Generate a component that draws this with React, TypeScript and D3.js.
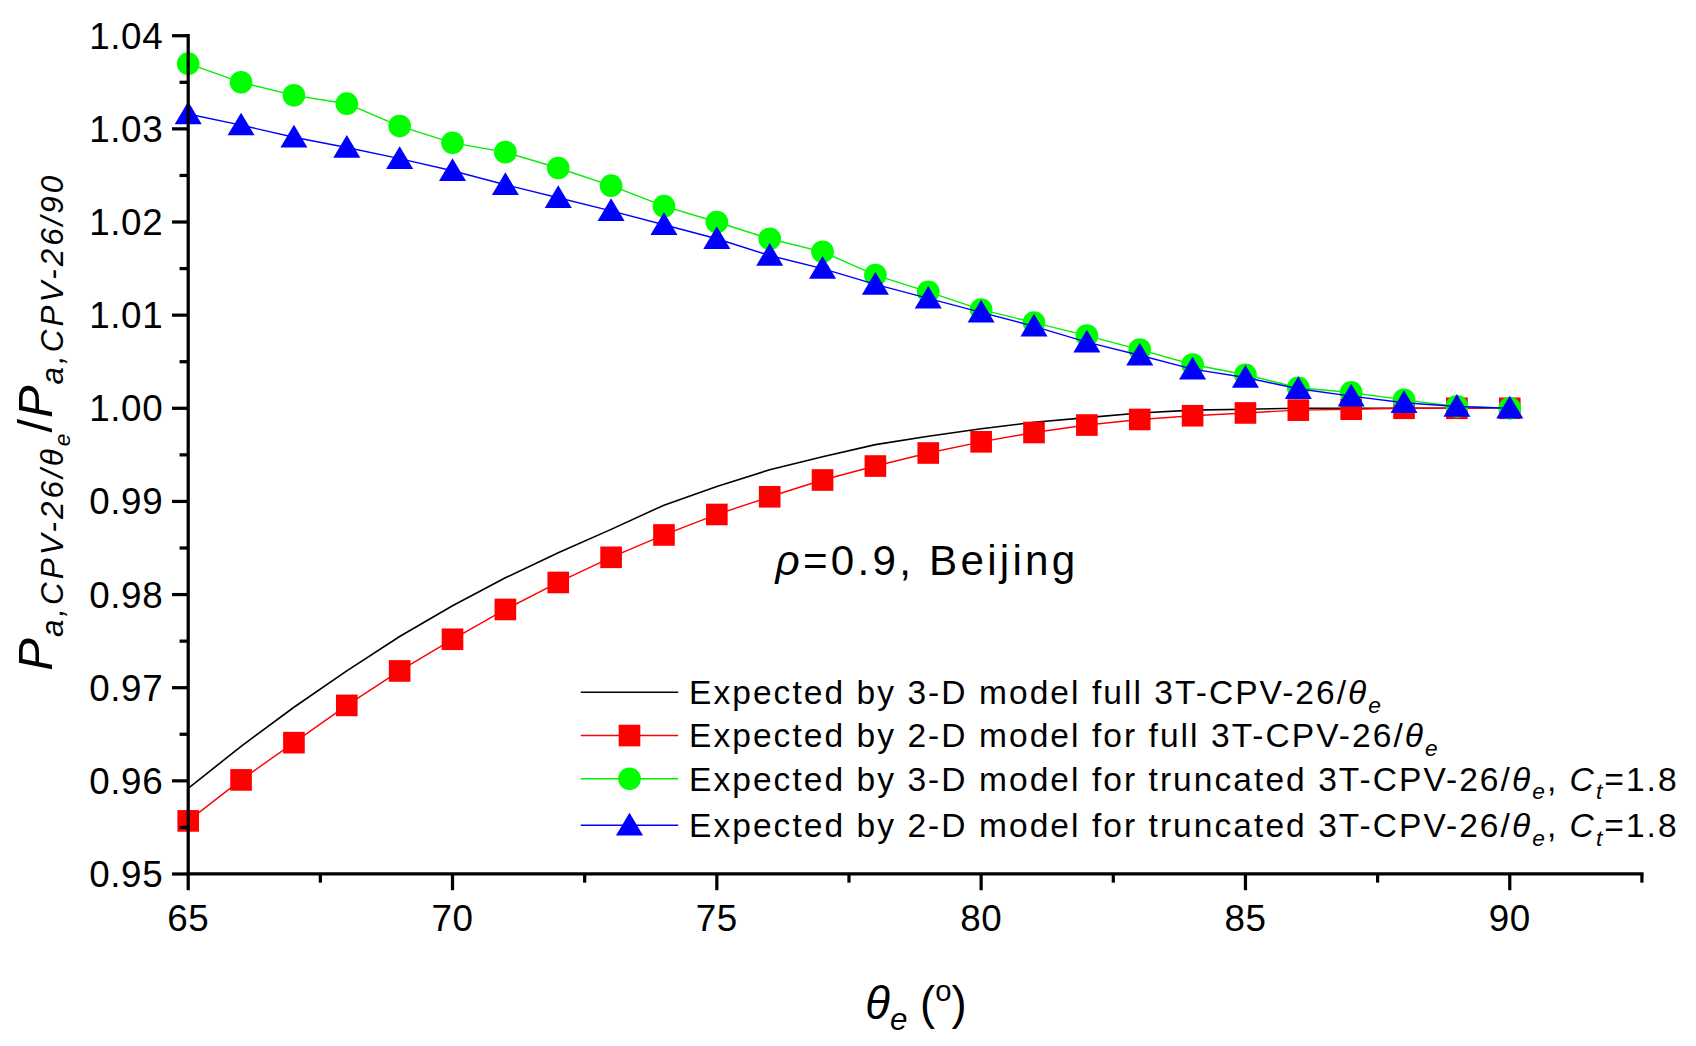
import React from "react";
import * as d3 from "d3";

const theta = [65, 66, 67, 68, 69, 70, 71, 72, 73, 74, 75, 76, 77, 78, 79, 80, 81, 82, 83, 84, 85, 86, 87, 88, 89, 90];
const full3D = [0.9592, 0.9637, 0.9679, 0.9718, 0.9755, 0.9788, 0.9818, 0.9845, 0.987, 0.9896, 0.9916, 0.9934, 0.9948, 0.9961, 0.997, 0.9978, 0.9985, 0.999, 0.9995, 0.9998, 0.9999, 1.0, 1.0, 1.0, 1.0, 1.0];
const full2D = [0.9557, 0.9601, 0.9641, 0.9681, 0.9718, 0.9752, 0.9784, 0.9813, 0.984, 0.9864, 0.9886, 0.9905, 0.9923, 0.9938, 0.9952, 0.9964, 0.9974, 0.9982, 0.9988, 0.9992, 0.9995, 0.9998, 0.9999, 1.0, 1.0, 1.0];
const trunc3D = [1.037, 1.035, 1.0336, 1.0327, 1.0303, 1.0285, 1.0275, 1.0258, 1.0239, 1.0217, 1.02, 1.0182, 1.0168, 1.0143, 1.0125, 1.0106, 1.0092, 1.0078, 1.0063, 1.0047, 1.0036, 1.0022, 1.0017, 1.0009, 1.0002, 1.0];
const trunc2D = [1.0316, 1.0304, 1.0291, 1.028, 1.0268, 1.0255, 1.024, 1.0226, 1.0212, 1.0197, 1.0182, 1.0164, 1.015, 1.0133, 1.0118, 1.0103, 1.0088, 1.0071, 1.0057, 1.0042, 1.0033, 1.0021, 1.0013, 1.0006, 1.0002, 1.0];

const xMajor = [65, 70, 75, 80, 85, 90];
const xMinor = [67.5, 72.5, 77.5, 82.5, 87.5, 92.5];
const yMajor = [0.95, 0.96, 0.97, 0.98, 0.99, 1.0, 1.01, 1.02, 1.03, 1.04];
const yMinor = [0.955, 0.965, 0.975, 0.985, 0.995, 1.005, 1.015, 1.025, 1.035];

const FONT = "'Liberation Sans', Arial, sans-serif";

export default function App() {
  const x = d3.scaleLinear().domain([65, 92.5]).range([174, 1518]);
  const y = d3.scaleLinear().domain([0.95, 1.04]).range([808, 33]);
  const line = (vals: number[]) =>
    d3.line<number>().x((_, i) => x(theta[i])).y((v) => y(v))(vals) || "";

  const tri = (cx: number, cy: number, w: number, h: number) =>
    `M${cx},${cy - h * 0.55}L${cx + w / 2},${cy + h * 0.45}L${cx - w / 2},${cy + h * 0.45}Z`;

  const legendRows = [
    { y: 640, color: "#000000", marker: "none", main: "Expected by 3-D model full 3T-CPV-26/", ct: false },
    { y: 680, color: "#FF0000", marker: "square", main: "Expected by 2-D model for full 3T-CPV-26/", ct: false },
    { y: 720, color: "#00EE00", marker: "circle", main: "Expected by 3-D model for truncated 3T-CPV-26/", ct: true },
    { y: 763, color: "#0000FF", marker: "triangle", main: "Expected by 2-D model for truncated 3T-CPV-26/", ct: true },
  ];

  return (
    <svg
      width={1696}
      height={1046}
      viewBox="0 0 1568 967"
      style={{ position: "absolute", left: 0, top: 0, background: "#fff" }}
      fontFamily={FONT}
    >
      <rect x={0} y={0} width={1568} height={967} fill="#fff" />
      {/* black line */}
      <path d={line(full3D)} fill="none" stroke="#000" strokeWidth={1.5} />
      {/* red */}
      <path d={line(full2D)} fill="none" stroke="#FF0000" strokeWidth={1.3} />
      {full2D.map((v, i) => (
        <rect key={"r" + i} x={x(theta[i]) - 10} y={y(v) - 10} width={20} height={20} fill="#FF0000" />
      ))}
      {/* green */}
      <path d={line(trunc3D)} fill="none" stroke="#00EE00" strokeWidth={1.3} />
      {trunc3D.map((v, i) => (
        <ellipse key={"g" + i} cx={x(theta[i])} cy={y(v)} rx={10.5} ry={10.5} fill="#00FF00" />
      ))}
      {/* blue */}
      <path d={line(trunc2D)} fill="none" stroke="#0000FF" strokeWidth={1.3} />
      {trunc2D.map((v, i) => (
        <path key={"b" + i} d={tri(x(theta[i]), y(v), 25, 21)} fill="#0000FF" />
      ))}

      {/* axes */}
      <line x1={174} y1={31.5} x2={174} y2={809.5} stroke="#000" strokeWidth={3} />
      <line x1={172.5} y1={808} x2={1519.5} y2={808} stroke="#000" strokeWidth={3} />
      {yMajor.map((v) => (
        <line key={"ym" + v} x1={159} x2={174} y1={y(v)} y2={y(v)} stroke="#000" strokeWidth={3} />
      ))}
      {yMinor.map((v) => (
        <line key={"yn" + v} x1={166} x2={174} y1={y(v)} y2={y(v)} stroke="#000" strokeWidth={3} />
      ))}
      {xMajor.map((v) => (
        <line key={"xm" + v} x1={x(v)} x2={x(v)} y1={808} y2={823} stroke="#000" strokeWidth={3} />
      ))}
      {xMinor.map((v) => (
        <line key={"xn" + v} x1={x(v)} x2={x(v)} y1={808} y2={816} stroke="#000" strokeWidth={3} />
      ))}
      {yMajor.map((v) => (
        <text key={"yl" + v} x={151} y={y(v) + 12} fontSize={34} letterSpacing={0.6} textAnchor="end" fill="#000">
          {v.toFixed(2)}
        </text>
      ))}
      {xMajor.map((v) => (
        <text key={"xl" + v} x={x(v)} y={861} fontSize={34} letterSpacing={0.5} textAnchor="middle" fill="#000">
          {v}
        </text>
      ))}

      {/* x title */}
      <text x={800} y={942} fontSize={42} fill="#000">
        <tspan fontStyle="italic">θ</tspan>
        <tspan fontSize={29} fontStyle="italic" dy={10}>e</tspan>
        <tspan dy={-10}> (</tspan>
        <tspan fontSize={27} dy={-17}>o</tspan>
        <tspan dy={17}>)</tspan>
      </text>

      {/* y title */}
      <text transform="translate(48,620) rotate(-90)" fontSize={45} fill="#000" letterSpacing={1}>
        <tspan fontStyle="italic">P</tspan>
        <tspan fontSize={29} fontStyle="italic" dy={10} letterSpacing={2.8}>a,CPV-26/θ</tspan>
        <tspan fontSize={21} fontStyle="italic" dy={7}>e</tspan>
        <tspan dy={-17}>/</tspan>
        <tspan fontStyle="italic">P</tspan>
        <tspan fontSize={29} fontStyle="italic" dy={10} letterSpacing={2.8}>a,CPV-26/90</tspan>
      </text>

      {/* annotation */}
      <text x={717} y={532} fontSize={39} fill="#000" letterSpacing={3}>
        <tspan fontStyle="italic">ρ</tspan>
        <tspan>=0.9, Beijing</tspan>
      </text>

      {/* legend */}
      {legendRows.map((r, i) => (
        <g key={"lg" + i}>
          <line x1={537} x2={627} y1={r.y} y2={r.y} stroke={r.color} strokeWidth={1.3} />
          {r.marker === "square" && <rect x={572} y={r.y - 10} width={20} height={20} fill="#FF0000" />}
          {r.marker === "circle" && <ellipse cx={582} cy={r.y} rx={10.5} ry={10.5} fill="#00FF00" />}
          {r.marker === "triangle" && <path d={tri(582, r.y, 25, 21)} fill="#0000FF" />}
          <text x={637} y={r.y + 11} fontSize={31} fill="#000" letterSpacing={1.9}>
            <tspan>{r.main}</tspan>
            <tspan fontStyle="italic">θ</tspan>
            <tspan fontStyle="italic" fontSize={21} dy={8}>e</tspan>
            {r.ct ? (
              <>
                <tspan dy={-8}>, </tspan>
                <tspan fontStyle="italic">C</tspan>
                <tspan fontStyle="italic" fontSize={21} dy={8}>t</tspan>
                <tspan dy={-8}>=1.8</tspan>
              </>
            ) : null}
          </text>
        </g>
      ))}
    </svg>
  );
}
